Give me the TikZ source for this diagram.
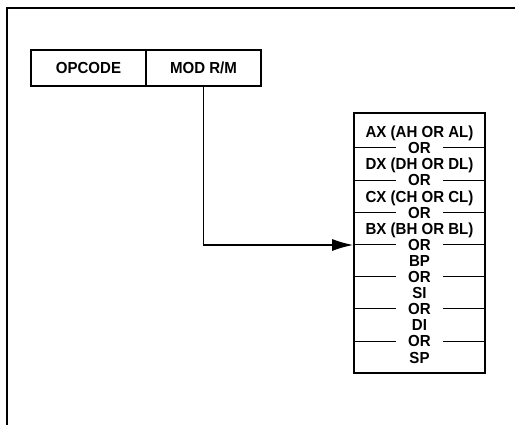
\documentclass[tikz,border=0pt]{standalone}
\usepackage{fontspec}
\setmainfont{Liberation Sans}[FakeStretch=0.94]
\usetikzlibrary{arrows.meta}
\tikzset{
  frameline/.style={line width=1.8pt},
  txt/.style={font=\fontsize{16}{18}\selectfont\bfseries, text height=11.5pt, text depth=0pt},
  field/.style={draw, txt, line width=1.8pt, minimum width=115pt, minimum height=36pt, inner sep=0pt},
  regbox/.style={draw, line width=1.8pt, minimum width=131pt, minimum height=260pt, inner sep=0pt},
  rowtext/.style={txt, inner ysep=0pt, inner xsep=0pt},
  ortext/.style={rowtext, inner xsep=12pt},
  sepline/.style={line width=1pt},
  conn/.style={line width=1.3pt},
}
\begin{document}
\begin{tikzpicture}[x=1pt,y=-1pt]
\useasboundingbox (0,0) rectangle (515,425);
% frame
\coordinate (fbl) at (7,425);
\coordinate (ftl) at (7,8);
\coordinate (ftr) at (515,8);
\draw[frameline] (fbl) -- (ftl) -- (ftr);
% instruction fields
\node[field] (op) at (88.5,68) {OPCODE};
\node[field] (mod) at (203.5,68) {MOD R/M};
% register box
\node[regbox] (reg) at (419.5,243) {};
\node[rowtext] (ax) at (419.5,131.9) {AX (AH OR AL)};
\node[ortext] (o1) at (419.5,148.0) {OR};
\node[rowtext] (dx) at (419.5,164.1) {DX (DH OR DL)};
\node[ortext] (o2) at (419.5,180.2) {OR};
\node[rowtext] (cx) at (419.5,196.3) {CX (CH OR CL)};
\node[ortext] (o3) at (419.5,212.4) {OR};
\node[rowtext] (bx) at (419.5,228.5) {BX (BH OR BL)};
\node[ortext] (o4) at (419.5,245.0) {OR};
\node[rowtext] (bp) at (419.5,260.9) {BP};
\node[ortext] (o5) at (419.5,276.8) {OR};
\node[rowtext] (si) at (419.5,292.9) {SI};
\node[ortext] (o6) at (419.5,309.0) {OR};
\node[rowtext] (di) at (419.5,325.1) {DI};
\node[ortext] (o7) at (419.5,341.2) {OR};
\node[rowtext] (sp) at (419.5,357.3) {SP};
\foreach \o in {o1,o2,o3,o4,o5,o6,o7}{
  \draw[sepline] (reg.west |- \o) -- (\o.west);
  \draw[sepline] (\o.east) -- (reg.east |- \o);
}
% connector
\draw[conn, -{Latex[length=21pt,width=12pt]}] (mod.south) |- (reg.west |- o4);
\end{tikzpicture}
\end{document}
